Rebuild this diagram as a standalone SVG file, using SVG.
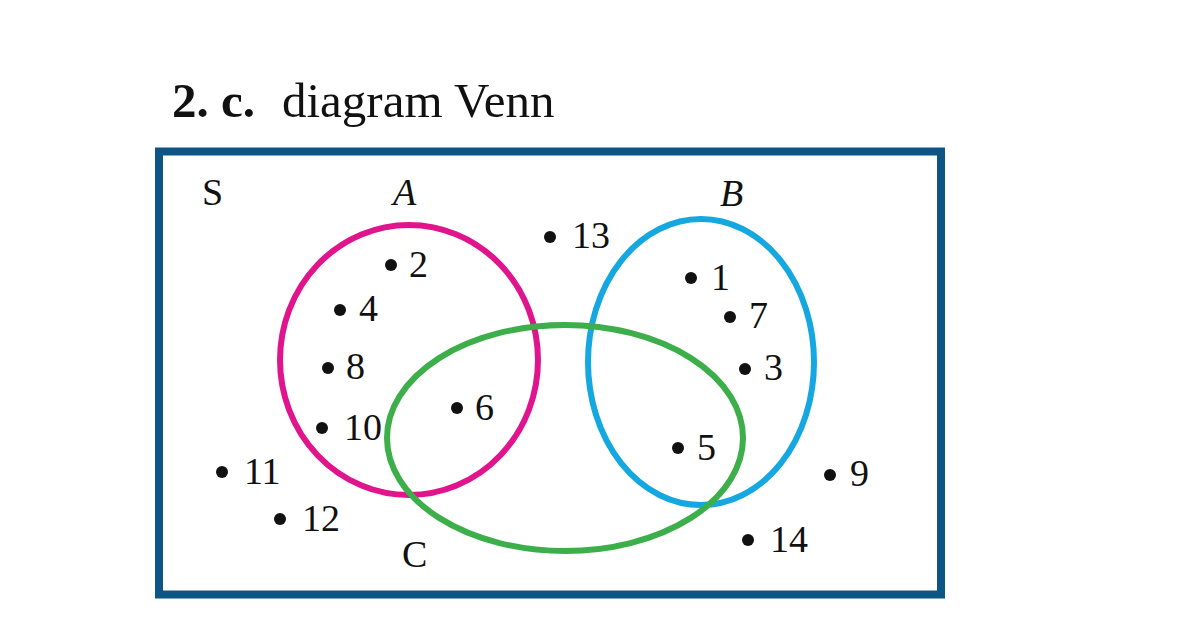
<svg xmlns="http://www.w3.org/2000/svg" width="1200" height="630" viewBox="0 0 1200 630">
<style>
text{font-family:'Liberation Serif','Times New Roman',Times,serif;fill:#111}
.t{font-size:38px}
.i{font-style:italic}
.d{fill:#111}
.ring{fill:none;stroke-width:6}
</style>
<rect width="1200" height="630" fill="#fff"/>
<g id="title">
<text x="172" y="117" font-size="49"><tspan font-weight="bold">2. c.</tspan><tspan x="282">diagram Venn</tspan></text>
</g>
<g id="universe">
<rect x="159" y="151.5" width="782" height="443" fill="none" stroke="#0c5585" stroke-width="8"/>
<text class="t" x="202" y="205">S</text>
</g>
<g id="setA">
<ellipse class="ring" cx="409" cy="360" rx="129" ry="135" stroke="#e0148c"/>
<text class="t i" x="393" y="205">A</text>
</g>
<g id="setB">
<ellipse class="ring" cx="701" cy="362" rx="113" ry="143" stroke="#14a7e0"/>
<text class="t i" x="720" y="206">B</text>
</g>
<g id="setC">
<ellipse class="ring" cx="565" cy="438" rx="178" ry="113" stroke="#3daf4a"/>
<text class="t" x="402" y="567">C</text>
</g>
<g id="elements">
<circle class="d" cx="391" cy="265" r="6"/><text class="t" x="409" y="277">2</text>
<circle class="d" cx="340" cy="310" r="6"/><text class="t" x="359" y="321">4</text>
<circle class="d" cx="328" cy="368" r="6"/><text class="t" x="346" y="379">8</text>
<circle class="d" cx="322" cy="428" r="6"/><text class="t" x="344" y="440">10</text>
<circle class="d" cx="457" cy="408" r="6"/><text class="t" x="475" y="420">6</text>
<circle class="d" cx="222" cy="472" r="6"/><text class="t" x="244" y="484">11</text>
<circle class="d" cx="280" cy="519" r="6"/><text class="t" x="302" y="531">12</text>
<circle class="d" cx="550" cy="237" r="6"/><text class="t" x="572" y="248">13</text>
<circle class="d" cx="691" cy="278" r="6"/><text class="t" x="711" y="290">1</text>
<circle class="d" cx="730" cy="317" r="6"/><text class="t" x="749" y="328">7</text>
<circle class="d" cx="745" cy="369" r="6"/><text class="t" x="764" y="380">3</text>
<circle class="d" cx="678" cy="448" r="6"/><text class="t" x="697" y="460">5</text>
<circle class="d" cx="830" cy="475" r="6"/><text class="t" x="850" y="486">9</text>
<circle class="d" cx="748" cy="540" r="6"/><text class="t" x="770" y="552">14</text>
</g>
</svg>
